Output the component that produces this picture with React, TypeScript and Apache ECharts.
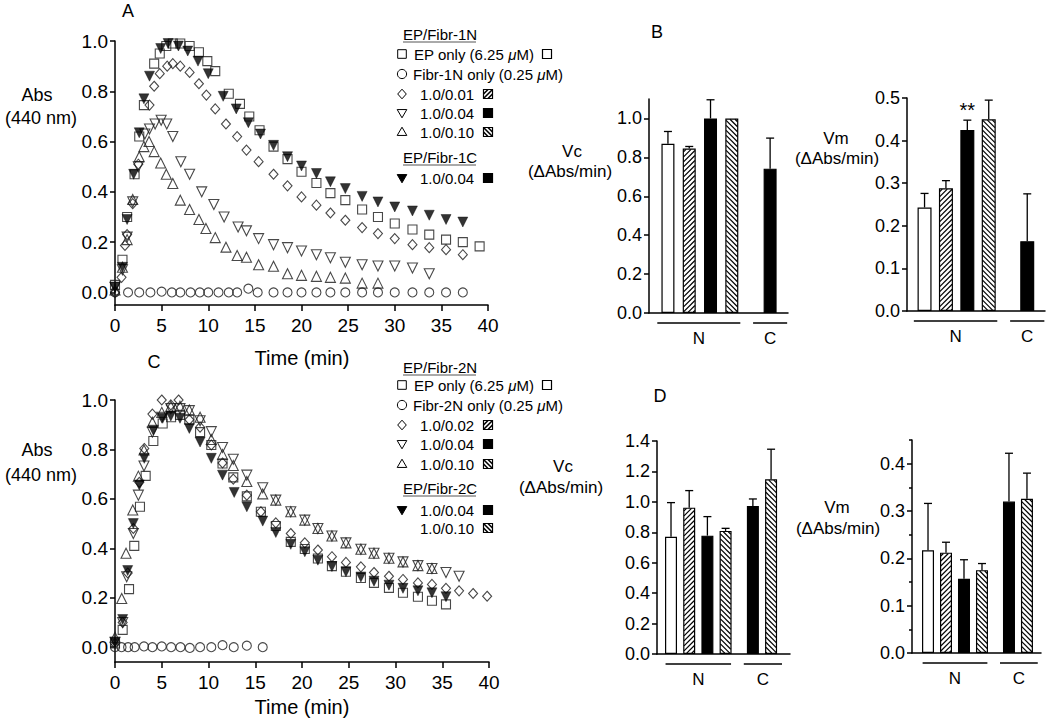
import React, { useEffect, useRef } from "react";
import * as echarts from "echarts";

type Pt = [number, number];
const FONT = "'Liberation Sans', Arial, Helvetica, sans-serif";

// ---------------- Panel A (EP / Fibr-1N, Fibr-1C) ----------------
const aEpOnly: Pt[] = [[0,0.03],[0.8,0.13],[1.3,0.30],[2.1,0.47],[2.6,0.62],[3.1,0.745],[4.2,0.91],[4.8,0.95],[5.5,0.98],[6.2,0.99],[7.0,0.99],[8.0,0.98],[9.0,0.955],[9.9,0.92],[10.75,0.88],[12.2,0.79],[13.4,0.75],[14.4,0.70],[15.5,0.645],[17.0,0.58],[18.5,0.53],[20.0,0.48],[21.6,0.435],[23.1,0.395],[24.7,0.367],[26.5,0.33],[28.2,0.30],[30.0,0.274],[31.9,0.25],[33.7,0.23],[35.5,0.21],[37.3,0.20],[39.1,0.183]];
const aFibrOnly: Pt[] = [[0,0.0],[1.4,0.0],[2.6,0.0],[3.8,0.0],[5.0,0.003],[6.1,0.0],[7.0,0.0],[8.1,0.0],[9.1,0.0],[10.0,0.0],[11.1,0.0],[12.2,0.0],[13.1,0.0],[14.3,0.015],[15.3,0.0],[17.0,0.0],[18.5,0.0],[20.0,0.0],[21.6,0.0],[23.1,0.0],[24.7,0.0],[26.5,0.0],[28.2,0.0],[30.0,0.0],[31.9,0.0],[33.7,0.0],[35.5,0.0],[37.3,0.0]];
const aRatio001: Pt[] = [[0,0.0],[0.7,0.06],[1.07,0.187],[1.3,0.23],[1.9,0.353],[2.5,0.51],[3.7,0.745],[4.2,0.82],[4.8,0.87],[5.6,0.90],[6.2,0.91],[7.0,0.90],[8.0,0.875],[9.0,0.83],[9.8,0.785],[10.75,0.73],[11.9,0.67],[13.1,0.62],[14.1,0.566],[15.4,0.52],[17.0,0.47],[18.5,0.424],[20.0,0.38],[21.6,0.347],[23.1,0.316],[24.7,0.287],[26.5,0.258],[28.2,0.234],[30.0,0.214],[31.9,0.19],[33.7,0.178],[35.5,0.17],[37.3,0.15]];
const aRatio004: Pt[] = [[0,0.02],[0.8,0.09],[1.3,0.22],[1.9,0.36],[2.5,0.50],[3.2,0.63],[3.7,0.65],[4.3,0.67],[4.95,0.685],[5.55,0.67],[6.2,0.62],[7.06,0.52],[8.0,0.47],[9.3,0.40],[10.6,0.35],[11.7,0.30],[13.2,0.26],[14.1,0.245],[15.4,0.214],[17.0,0.19],[18.5,0.178],[20.0,0.165],[21.6,0.15],[23.1,0.138],[24.7,0.12],[26.5,0.11],[28.2,0.105],[30.0,0.105],[31.9,0.097],[33.7,0.074]];
const aRatio010: Pt[] = [[0,0.01],[0.8,0.10],[1.3,0.21],[1.9,0.37],[2.6,0.54],[3.1,0.58],[3.65,0.60],[4.2,0.56],[4.9,0.515],[5.5,0.47],[6.2,0.433],[7.0,0.367],[8.0,0.33],[9.0,0.29],[9.75,0.254],[10.75,0.218],[11.9,0.18],[13.1,0.147],[14.1,0.14],[15.4,0.11],[17.0,0.104],[18.5,0.074],[20.0,0.068],[21.6,0.064],[23.1,0.06],[24.7,0.057],[26.5,0.037],[28.2,0.037]];
const aFibr1C004: Pt[] = [[0,0.02],[0.8,0.10],[1.3,0.29],[2.0,0.47],[2.6,0.635],[3.1,0.77],[3.7,0.86],[4.9,0.97],[5.7,0.99],[6.8,0.98],[7.8,0.96],[8.9,0.92],[10.0,0.87],[11.6,0.78],[13.0,0.73],[14.3,0.675],[15.6,0.63],[17.0,0.585],[18.5,0.54],[20.0,0.503],[21.6,0.473],[23.1,0.44],[24.7,0.413],[26.5,0.382],[28.2,0.36],[30.0,0.34],[31.9,0.324],[33.7,0.307],[35.5,0.29],[37.3,0.28]];

// ---------------- Panel C (EP / Fibr-2N, Fibr-2C) ----------------
const cEpOnly: Pt[] = [[0,0.015],[0.82,0.07],[1.5,0.235],[2.06,0.41],[2.67,0.568],[3.28,0.693],[4.1,0.834],[5.1,0.905],[6.0,0.93],[6.95,0.94],[7.95,0.92],[9.1,0.87],[10.3,0.818],[11.5,0.743],[12.65,0.687],[14.1,0.61],[15.6,0.548],[17.2,0.49],[18.8,0.426],[20.3,0.397],[21.7,0.359],[23.2,0.328],[24.7,0.305],[26.3,0.28],[27.7,0.26],[29.3,0.24],[30.8,0.22],[32.4,0.204],[33.9,0.188],[35.4,0.173]];
const cFibrOnly: Pt[] = [[0,0.0],[0.7,0.0],[1.4,0.0],[2.1,0.0],[3.1,0.003],[4.0,0.0],[5.0,0.003],[6.0,0.0],[7.0,0.0],[8.0,-0.003],[9.1,0.0],[10.3,0.0],[11.5,0.008],[12.7,0.0],[14.1,0.006],[15.8,0.0]];
const cRatio002: Pt[] = [[0,0.015],[0.82,0.10],[1.36,0.30],[1.96,0.48],[2.6,0.667],[3.13,0.804],[4.0,0.943],[5.0,1.0],[5.97,0.98],[6.8,1.0],[7.95,0.92],[9.1,0.89],[10.3,0.818],[11.5,0.745],[12.65,0.68],[14.1,0.615],[15.6,0.548],[17.2,0.503],[18.8,0.46],[20.3,0.422],[21.7,0.393],[23.2,0.366],[24.7,0.343],[26.3,0.325],[27.7,0.302],[29.3,0.287],[30.8,0.274],[32.4,0.26],[33.9,0.254],[35.4,0.238],[36.8,0.228],[38.3,0.217],[39.8,0.206]];
const cRatio004: Pt[] = [[0,0.02],[0.82,0.10],[1.25,0.285],[1.96,0.46],[2.5,0.615],[3.1,0.733],[4.0,0.87],[5.0,0.93],[5.97,0.965],[6.95,0.965],[7.95,0.957],[9.1,0.916],[10.3,0.872],[11.5,0.808],[12.65,0.76],[14.1,0.696],[15.8,0.645],[17.2,0.595],[18.8,0.548],[20.3,0.514],[21.7,0.48],[23.2,0.45],[24.7,0.422],[26.3,0.396],[27.7,0.38],[29.3,0.36],[30.8,0.345],[32.4,0.33],[33.9,0.318],[35.4,0.302],[36.8,0.287]];
const cRatio010: Pt[] = [[0,0.04],[0.72,0.197],[1.18,0.38],[1.9,0.555],[2.5,0.692],[3.1,0.798],[4.0,0.91],[5.0,0.95],[5.97,0.975],[6.95,0.975],[7.95,0.96],[9.1,0.93],[10.3,0.84],[11.5,0.78],[12.65,0.735],[14.1,0.67],[15.8,0.62],[17.2,0.595],[18.8,0.548],[20.3,0.514],[21.7,0.48],[23.2,0.45],[24.7,0.422],[26.3,0.396],[27.7,0.38],[29.3,0.36],[30.8,0.345],[32.4,0.33],[33.9,0.318]];
const cFibr2C004: Pt[] = [[0,0.02],[0.82,0.112],[1.36,0.31],[1.96,0.50],[2.6,0.656],[3.13,0.764],[4.1,0.878],[5.1,0.926],[5.97,0.935],[6.95,0.926],[7.95,0.885],[9.1,0.83],[10.3,0.764],[11.5,0.696],[12.75,0.626],[14.1,0.568],[15.8,0.51],[17.2,0.464],[18.8,0.416],[20.3,0.386],[21.7,0.352],[23.2,0.326],[24.7,0.305],[26.3,0.284],[27.7,0.267],[29.3,0.251],[30.8,0.238],[32.4,0.228],[33.9,0.22],[35.4,0.204]];

const absTicks = [0, 0.2, 0.4, 0.6, 0.8, 1.0];

// ---------------- Panel B (bars) ----------------
const barSlotsB = [1, 2, 3, 4, 5.8];
const barKindsB = ["open", "fwd", "solid", "back", "solid"];
const vcB = [0.87, 0.845, 1.0, 1.0, 0.742];
const vcBErr = [0.933, 0.856, 1.096, 1.0, 0.899];
const vmB = [0.243, 0.288, 0.425, 0.45, 0.164];
const vmBErr = [0.276, 0.306, 0.448, 0.495, 0.275];
const vcTicksB = [0, 0.2, 0.4, 0.6, 0.8, 1.0];
const vmTicksB = [0, 0.1, 0.2, 0.3, 0.4, 0.5];

// ---------------- Panel D (bars) ----------------
const barSlotsD = [1, 2, 3, 4, 5.5, 6.5];
const barKindsD = ["open", "fwd", "solid", "back", "solid", "back"];
const vcD = [0.771, 0.962, 0.778, 0.809, 0.973, 1.148];
const vcDErr = [0.995, 1.074, 0.903, 0.826, 1.019, 1.346];
const vmD = [0.217, 0.212, 0.157, 0.175, 0.32, 0.326];
const vmDErr = [0.316, 0.234, 0.197, 0.189, 0.422, 0.38];
const vcTicksD = [0, 0.2, 0.4, 0.6, 0.8, 1.0, 1.2, 1.4];
const vmTicksD = [0, 0.1, 0.2, 0.3, 0.4];
const vmMinorD = [0.05, 0.15, 0.25, 0.35, 0.45];

const groupsB = [{ label: "N", from: 0.5, to: 4.4 }, { label: "C", from: 5.0, to: 6.6 }];
const groupsD = [{ label: "N", from: 0.7, to: 4.3 }, { label: "C", from: 5.0, to: 7.1 }];

const AX = { color: "#000", width: 1.5 };

function barStyle(kind: string): any {
  return { borderColor: "#000", borderWidth: 1.2, color: kind === "solid" ? "#000" : "#fff" };
}

function yAxisCfg(grid: number, min: number, max: number, ticks: number[], fs: number) {
  return {
    type: "value", gridIndex: grid, min, max, position: "left",
    axisLine: { show: true, onZero: false, lineStyle: AX },
    axisTick: { show: true, length: 5, customValues: ticks, lineStyle: AX },
    axisLabel: { customValues: ticks, formatter: (v: number) => v.toFixed(1), fontSize: fs, color: "#000", fontFamily: FONT, margin: 7 },
    splitLine: { show: false },
  };
}

function barXAxis(grid: number, min: number, max: number) {
  return {
    type: "value", gridIndex: grid, min, max,
    axisLine: { show: true, onZero: false, lineStyle: AX },
    axisTick: { show: false }, axisLabel: { show: false }, splitLine: { show: false },
  };
}

function timeXAxis(grid: number) {
  return {
    type: "value", gridIndex: grid, min: 0, max: 40, interval: 5,
    axisLine: { show: true, onZero: false, lineStyle: AX },
    axisTick: { show: true, length: 6, lineStyle: AX },
    axisLabel: { fontSize: 19, color: "#000", fontFamily: FONT, margin: 11 },
    splitLine: { show: false },
  };
}

function scat(data: Pt[], grid: number, symbol: string, size: any, filled = false, rotate = 0) {
  return {
    type: "scatter", xAxisIndex: grid, yAxisIndex: grid, data, symbol, symbolSize: size, symbolRotate: rotate,
    itemStyle: filled ? { color: "#000", borderColor: "#000", borderWidth: 0.5 } : { color: "rgba(255,255,255,0)", borderColor: "#1a1a1a", borderWidth: 1.1 },
    z: filled ? 4 : 3,
  };
}

function bars(grid: number, slots: number[], vals: number[], kinds: string[], width: number) {
  return {
    type: "bar", xAxisIndex: grid, yAxisIndex: grid, barWidth: width,
    data: slots.map((s, i) => ({ value: [s, vals[i]], itemStyle: barStyle(kinds[i]) })),
    z: 2,
  };
}

// diagonal hatching drawn inside each hatched bar (dir 1 = "/", -1 = "\")
function hatch(grid: number, slots: number[], vals: number[], kinds: string[], width: number) {
  return {
    type: "custom", xAxisIndex: grid, yAxisIndex: grid, z: 3,
    data: slots.map((s, i) => [s, vals[i], kinds[i] === "fwd" ? 1 : kinds[i] === "back" ? -1 : 0]),
    renderItem: (_p: any, api: any) => {
      const dir = api.value(2);
      const children: any[] = [];
      if (dir) {
        const top = api.coord([api.value(0), api.value(1)]);
        const bot = api.coord([api.value(0), 0]);
        const x0 = top[0] - width / 2 + 0.8, x1 = top[0] + width / 2 - 0.8;
        const y0 = top[1] + 0.8, y1 = bot[1] - 0.8;
        const step = 5;
        const st = { stroke: "#000", lineWidth: 1.2 };
        if (dir > 0) {
          for (let c = x0 + y0 + step / 2; c < x1 + y1; c += step) {
            const xa = Math.max(x0, c - y1), xb = Math.min(x1, c - y0);
            if (xb > xa) children.push({ type: "line", shape: { x1: xa, y1: c - xa, x2: xb, y2: c - xb }, style: st });
          }
        } else {
          for (let c = y0 - x1 + step / 2; c < y1 - x0; c += step) {
            const xa = Math.max(x0, y0 - c), xb = Math.min(x1, y1 - c);
            if (xb > xa) children.push({ type: "line", shape: { x1: xa, y1: xa + c, x2: xb, y2: xb + c }, style: st });
          }
        }
      }
      return { type: "group", children };
    },
  };
}

function errs(grid: number, slots: number[], vals: number[], tops: number[]) {
  return {
    type: "custom", xAxisIndex: grid, yAxisIndex: grid,
    data: slots.map((s, i) => [s, vals[i], tops[i]]),
    z: 4,
    renderItem: (_p: any, api: any) => {
      const x = api.value(0), v = api.value(1), e = api.value(2);
      if (e <= v) return { type: "group", children: [] };
      const p0 = api.coord([x, v]);
      const p1 = api.coord([x, e]);
      const st = { stroke: "#000", lineWidth: 1.3 };
      return {
        type: "group",
        children: [
          { type: "line", shape: { x1: p0[0], y1: p0[1], x2: p1[0], y2: p1[1] }, style: st },
          { type: "line", shape: { x1: p1[0] - 4, y1: p1[1], x2: p1[0] + 4, y2: p1[1] }, style: st },
        ],
      };
    },
  };
}

function txt(text: string, x: number, y: number, size: number, align = "center", rich?: any) {
  const style: any = {
    text, fill: "#000", fontSize: size, fontFamily: FONT,
    align, verticalAlign: "middle", textAlign: align, textVerticalAlign: "middle",
  };
  if (rich) style.rich = rich;
  return { type: "text", x, y, style, z: 10 };
}

function seg(x1: number, y1: number, x2: number, y2: number, w = 1.3, color = "#000") {
  return { type: "line", shape: { x1, y1, x2, y2 }, style: { stroke: color, lineWidth: w }, z: 10 };
}

function legMarker(kind: string, x: number, y: number): any {
  const s = 4.3;
  const open = { stroke: "#000", lineWidth: 1, fill: "none" };
  const full = { stroke: "#000", lineWidth: 1, fill: "#000" };
  if (kind === "square") return { type: "rect", shape: { x: x - s, y: y - s, width: 2 * s, height: 2 * s }, style: open, z: 10 };
  if (kind === "circle") return { type: "circle", shape: { cx: x, cy: y, r: s + 0.3 }, style: open, z: 10 };
  if (kind === "diamond") return { type: "polygon", shape: { points: [[x, y - s - 0.5], [x + s, y], [x, y + s + 0.5], [x - s, y]] }, style: open, z: 10 };
  if (kind === "triUp") return { type: "polygon", shape: { points: [[x, y - s - 0.5], [x + s + 0.5, y + s * 0.8], [x - s - 0.5, y + s * 0.8]] }, style: open, z: 10 };
  const pts = [[x - s - 0.5, y - s * 0.8], [x + s + 0.5, y - s * 0.8], [x, y + s + 0.5]];
  return { type: "polygon", shape: { points: pts }, style: kind === "triDownFilled" ? full : open, z: 10 };
}

function swatch(kind: string, x: number, y: number): any[] {
  const s = 9, x0 = x - s / 2, y0 = y - s / 2;
  const out: any[] = [{ type: "rect", shape: { x: x0, y: y0, width: s, height: s }, style: { fill: kind === "solid" ? "#000" : "#fff", stroke: "#000", lineWidth: 1.2 }, z: 10 }];
  if (kind === "fwd") {
    out.push(seg(x0, y0 + s, x0 + s, y0, 1.6), seg(x0, y0 + s / 2, x0 + s / 2, y0, 1.6), seg(x0 + s / 2, y0 + s, x0 + s, y0 + s / 2, 1.6));
  } else if (kind === "back") {
    out.push(seg(x0, y0, x0 + s, y0 + s, 1.6), seg(x0 + s / 2, y0, x0 + s, y0 + s / 2, 1.6), seg(x0, y0 + s / 2, x0 + s / 2, y0 + s, 1.6));
  }
  return out;
}

const RICH = { i: { fontStyle: "italic", fontSize: 15, fontFamily: FONT } };

function legend(n: string, c: string, lowRatio: string, ys: number[], withExtra: boolean): any[] {
  const els: any[] = [];
  const mx = 402, sx = 488;
  els.push(txt(`EP/Fibr-${n}`, 403, ys[0], 15, "left"), seg(403, ys[0] + 8, 476, ys[0] + 8, 1, "#555"));
  els.push(legMarker("square", mx, ys[1]), txt("EP only (6.25 {i|μ}M)", 414, ys[1], 15, "left", RICH), ...swatch("open", 547, ys[1]));
  els.push(legMarker("circle", mx, ys[2]), txt(`Fibr-${n} only (0.25 {i|μ}M)`, 413, ys[2], 15, "left", RICH));
  els.push(legMarker("diamond", mx, ys[3]), txt(lowRatio, 420, ys[3], 15, "left"), ...swatch("fwd", sx, ys[3]));
  els.push(legMarker("triDown", mx, ys[4]), txt("1.0/0.04", 420, ys[4], 15, "left"), ...swatch("solid", sx, ys[4]));
  els.push(legMarker("triUp", mx, ys[5]), txt("1.0/0.10", 420, ys[5], 15, "left"), ...swatch("back", sx, ys[5]));
  els.push(txt(`EP/Fibr-${c}`, 403, ys[6], 15, "left"), seg(403, ys[6] + 8, 476, ys[6] + 8, 1, "#555"));
  els.push(legMarker("triDownFilled", mx, ys[7]), txt("1.0/0.04", 420, ys[7], 15, "left"), ...swatch("solid", sx, ys[7]));
  if (withExtra) els.push(txt("1.0/0.10", 420, ys[8], 15, "left"), ...swatch("back", sx, ys[8]));
  return els;
}

export default function App() {
  const ref = useRef<HTMLDivElement>(null);
  useEffect(() => {
    if (!ref.current) return;
    const chart = echarts.init(ref.current, null, { renderer: "svg" });
    const staticGraphic: any[] = [
      txt("A", 128, 11, 18), txt("B", 657, 32, 18), txt("C", 154, 362, 18), txt("D", 660, 396, 18),
      txt("Abs", 37, 95, 18), txt("(440 nm)", 41, 118, 18),
      txt("Abs", 37, 450, 18), txt("(440 nm)", 41, 475, 18),
      txt("Time (min)", 302, 358, 20), txt("Time (min)", 302, 707, 20),
      txt("Vc", 572, 151, 17), txt("(ΔAbs/min)", 570, 171, 17),
      txt("Vm", 836, 138, 17), txt("(ΔAbs/min)", 837, 158, 17),
      txt("Vc", 563, 466, 17), txt("(ΔAbs/min)", 561, 487, 17),
      txt("Vm", 837, 507, 17), txt("(ΔAbs/min)", 838, 528, 17),
      ...legend("1N", "1C", "1.0/0.01", [34, 54, 74, 94, 113, 132, 157, 178], false),
      ...legend("2N", "2C", "1.0/0.02", [367, 385, 405, 425, 444, 464, 488, 510, 528], true),
    ];
    const option: any = {
      animation: false,
      backgroundColor: "#fff",
      textStyle: { fontFamily: FONT },
      grid: [
        { left: 115, top: 41, width: 373, height: 264 },
        { left: 115, top: 400, width: 374, height: 262 },
        { left: 649, top: 99, width: 139, height: 214 },
        { left: 907, top: 98, width: 138, height: 213 },
        { left: 657, top: 441, width: 133, height: 213 },
        { left: 912, top: 440, width: 129, height: 213 },
      ],
      xAxis: [
        timeXAxis(0), timeXAxis(1),
        barXAxis(2, 0.11, 6.64), barXAxis(3, 0.18, 6.63),
        barXAxis(4, 0.23, 7.54), barXAxis(5, 0.11, 7.28),
      ],
      yAxis: [
        yAxisCfg(0, -0.05, 1.0, absTicks, 19),
        yAxisCfg(1, -0.06, 1.0, absTicks, 19),
        yAxisCfg(2, 0, 1.1, vcTicksB, 18),
        yAxisCfg(3, 0, 0.5, vmTicksB, 18),
        yAxisCfg(4, 0, 1.4, vcTicksD, 18),
        yAxisCfg(5, 0, 0.45, vmTicksD, 18),
        {
          type: "value", gridIndex: 5, min: 0, max: 0.45, position: "left",
          axisLine: { show: false }, axisLabel: { show: false }, splitLine: { show: false },
          axisTick: { show: true, length: 3, customValues: vmMinorD, lineStyle: AX },
        },
      ],
      series: [
        scat(aEpOnly, 0, "rect", 9),
        scat(aFibrOnly, 0, "circle", 9),
        scat(aRatio001, 0, "diamond", [9, 10]),
        scat(aRatio004, 0, "triangle", 10, false, 180),
        scat(aRatio010, 0, "triangle", 10),
        scat(aFibr1C004, 0, "triangle", 10, true, 180),
        scat(cEpOnly, 1, "rect", 9),
        scat(cFibrOnly, 1, "circle", 9),
        scat(cRatio002, 1, "diamond", [9, 10]),
        scat(cRatio004, 1, "triangle", 10, false, 180),
        scat(cRatio010, 1, "triangle", 10),
        scat(cFibr2C004, 1, "triangle", 10, true, 180),
        bars(2, barSlotsB, vcB, barKindsB, 13),
        hatch(2, barSlotsB, vcB, barKindsB, 13),
        errs(2, barSlotsB, vcB, vcBErr),
        bars(3, barSlotsB, vmB, barKindsB, 14),
        hatch(3, barSlotsB, vmB, barKindsB, 14),
        errs(3, barSlotsB, vmB, vmBErr),
        bars(4, barSlotsD, vcD, barKindsD, 12),
        hatch(4, barSlotsD, vcD, barKindsD, 12),
        errs(4, barSlotsD, vcD, vcDErr),
        bars(5, barSlotsD, vmD, barKindsD, 12),
        hatch(5, barSlotsD, vmD, barKindsD, 12),
        errs(5, barSlotsD, vmD, vmDErr),
      ],
      graphic: { elements: staticGraphic },
    };
    chart.setOption(option);

    const dyn: any[] = [];
    const sets: [number, typeof groupsB][] = [[2, groupsB], [3, groupsB], [4, groupsD], [5, groupsD]];
    sets.forEach(([gi, groups]) => {
      groups.forEach((g) => {
        const a = chart.convertToPixel({ gridIndex: gi } as any, [g.from, 0]) as number[];
        const b = chart.convertToPixel({ gridIndex: gi } as any, [g.to, 0]) as number[];
        dyn.push(seg(a[0], a[1] + 10, b[0], a[1] + 10, 1.5));
        dyn.push(txt(g.label, (a[0] + b[0]) / 2, a[1] + 25, 17));
      });
    });
    const star = chart.convertToPixel({ gridIndex: 3 } as any, [barSlotsB[2], vmBErr[2]]) as number[];
    dyn.push(txt("**", star[0], star[1] - 10, 20));
    chart.setOption({ graphic: { elements: [...staticGraphic, ...dyn] } });

    return () => chart.dispose();
  }, []);
  return <div ref={ref} style={{ position: "fixed", left: 0, top: 0, width: 1050, height: 725, background: "#fff" }} />;
}
